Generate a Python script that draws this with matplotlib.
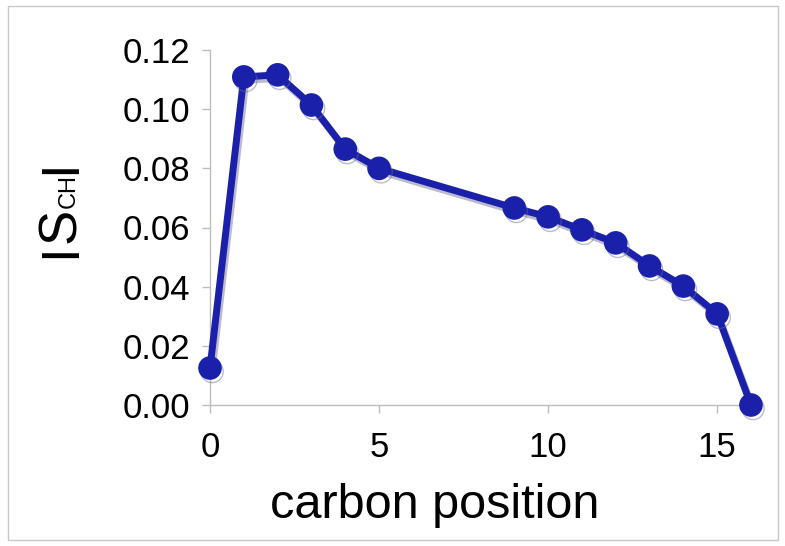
import matplotlib
matplotlib.use("Agg")
import matplotlib.pyplot as plt
import matplotlib.patheffects as pe
from matplotlib.patches import Rectangle

# order parameter per carbon position
carbon = [0, 1, 2, 3, 4, 5, 9, 10, 11, 12, 13, 14, 15, 16]
s_ch = [0.0125, 0.1109, 0.1116, 0.1014, 0.0865, 0.0800, 0.0666,
        0.0636, 0.0592, 0.0548, 0.0470, 0.0402, 0.0308, 0.0000]
xticks = [0, 5, 10, 15]
yticks = [0.00, 0.02, 0.04, 0.06, 0.08, 0.10, 0.12]

plt.rcParams['font.family'] = ['Liberation Sans', 'DejaVu Sans']

W, H = 785, 546
fig = plt.figure(figsize=(W / 100, H / 100), dpi=100)
ax = fig.add_axes([210 / W, 1 - 405 / H, (753 - 210) / W, (405 - 50) / H])

blue = '#1b20ab'
shadow = [pe.SimpleLineShadow(offset=(1.5, -2.5), shadow_color='#6a6a90', alpha=0.45),
          pe.Normal()]
ax.plot(carbon, s_ch, color=blue, lw=5, marker='o', ms=16, mfc=blue, mec=blue,
        clip_on=False, zorder=3, path_effects=shadow)

ax.set_xlim(0, 16.06)
ax.set_ylim(0, 0.12)
ax.set_xticks(xticks)
ax.set_yticks(yticks)
ax.set_yticklabels(['%.2f' % v for v in yticks])

for side in ['top', 'right']:
    ax.spines[side].set_visible(False)
for side in ['left', 'bottom']:
    ax.spines[side].set_color('#bdbdbd')
    ax.spines[side].set_linewidth(1.0)
ax.tick_params(axis='both', colors='#bdbdbd', labelcolor='black', length=6,
               width=1.0, direction='out', labelsize=25)
ax.tick_params(axis='y', pad=8.5)
ax.tick_params(axis='x', pad=13)

# x label (offset to the left of axis centre as in the original)
fig.text(435 / W, 28 / H, 'carbon position', fontsize=35, ha='center', va='baseline')

# y label |S_CH| built from pieces so CH sits on the baseline, smaller
x0 = 75 / W
y0 = (H - 258)
kw = dict(rotation=90, rotation_mode='anchor', ha='left', va='baseline')
fig.canvas.draw()
r = fig.canvas.get_renderer()
pos = y0
for txt, fs in [('I', 38), ('S', 38), ('CH', 17), ('I', 38)]:
    t = fig.text(x0, pos / H, txt, fontsize=fs, **kw)
    pos += t.get_window_extent(renderer=r).height

# thin grey frame around the picture
fig.patches.append(Rectangle((8 / W, 6 / H), (778 - 8) / W, (540 - 6) / H,
                             transform=fig.transFigure, fill=False,
                             edgecolor='#c8c8c8', lw=1.0))

fig.savefig('out.png', dpi=100)
